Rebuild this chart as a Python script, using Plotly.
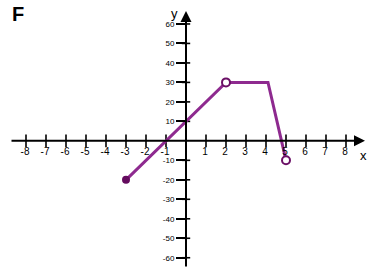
import plotly.graph_objects as go

# Data
seg_x = [-3, 2, 4.1, 5]
seg_y = [-20, 30, 30, -10]
closed_x = [-3]
closed_y = [-20]
open_x = [2, 5]
open_y = [30, -10]
x_ticks = [-8, -7, -6, -5, -4, -3, -2, -1, 1, 2, 3, 4, 5, 6, 7, 8]
y_ticks = [-60, -50, -40, -30, -20, -10, 10, 20, 30, 40, 50, 60]

W, H = 380, 278
XR = [-9.3, 9.7]
YR = [-70.4, 72.3]

fig = go.Figure()

# crossing tick marks on x-axis
fig.add_trace(go.Scatter(x=x_ticks, y=[0]*len(x_ticks), mode="markers",
                         marker=dict(symbol="line-ns", size=9, line=dict(width=1.6, color="black")),
                         hoverinfo="skip", showlegend=False))
# short right part of y ticks
fig.add_trace(go.Scatter(x=[0]*len(y_ticks), y=y_ticks, mode="markers",
                         marker=dict(symbol="line-ew", size=6, line=dict(width=1.6, color="black")),
                         hoverinfo="skip", showlegend=False))

# function graph
fig.add_trace(go.Scatter(x=seg_x, y=seg_y, mode="lines",
                         line=dict(color="#8E2A8F", width=3), showlegend=False))
fig.add_trace(go.Scatter(x=closed_x, y=closed_y, mode="markers",
                         marker=dict(size=8, color="#640B5E", line=dict(width=0)), showlegend=False))
fig.add_trace(go.Scatter(x=open_x, y=open_y, mode="markers",
                         marker=dict(size=8, color="white", line=dict(width=2, color="#6B1066")),
                         showlegend=False))

# axes with arrows
fig.add_annotation(x=8.95, y=0, ax=-8.8, ay=0, xref="x", yref="y", axref="x", ayref="y",
                   text="", showarrow=True, arrowhead=2, arrowsize=1.1, arrowwidth=2,
                   arrowcolor="black", standoff=0)
fig.add_annotation(x=0, y=66.7, ax=0, ay=-65.3, xref="x", yref="y", axref="x", ayref="y",
                   text="", showarrow=True, arrowhead=2, arrowsize=1.1, arrowwidth=2,
                   arrowcolor="black", standoff=0)

# axis labels
fig.add_annotation(x=-0.6, y=65.6, text="y", showarrow=False, xanchor="center", yanchor="middle",
                   font=dict(family="Liberation Sans", size=13, color="black"))
fig.add_annotation(x=8.85, y=-7.3, text="x", showarrow=False, xanchor="center", yanchor="middle",
                   font=dict(family="Liberation Sans", size=13, color="black"))
fig.add_annotation(x=17.5 / W, y=1 - 14 / H, xref="paper", yref="paper", text="<b>F</b>",
                   xanchor="center", yanchor="middle",
                   showarrow=False, font=dict(family="Liberation Sans", size=20, color="black"))

fig.update_layout(
    width=W, height=H, margin=dict(l=0, r=0, t=0, b=0),
    paper_bgcolor="white", plot_bgcolor="white",
    xaxis=dict(range=XR, domain=[0, 1], anchor="free", position=1 - 141.5 / H,
               showgrid=False, zeroline=False, showline=False,
               tickmode="array", tickvals=x_ticks, ticktext=[str(v) for v in x_ticks],
               ticks="", ticklabelstandoff=2, ticklabelshift=-1,
               tickfont=dict(family="Liberation Sans", size=10, color="black"),
               fixedrange=True),
    yaxis=dict(range=YR, domain=[0, 1], anchor="free", position=186 / W,
               showgrid=False, zeroline=False, showline=False,
               tickmode="array", tickvals=y_ticks, ticktext=[str(v) for v in y_ticks],
               ticks="outside", ticklen=10, tickwidth=1.6, tickcolor="black",
               tickfont=dict(family="Liberation Sans", size=8, color="black"),
               fixedrange=True),
)

fig.write_html("out.html")
